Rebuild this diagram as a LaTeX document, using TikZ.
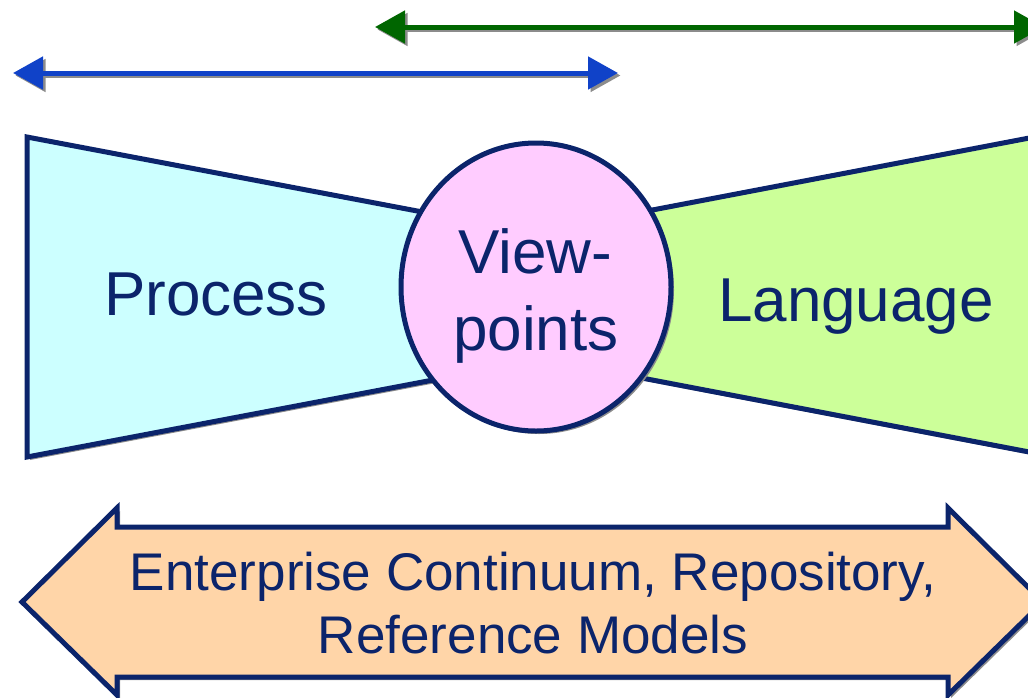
\documentclass[tikz,border=0pt]{standalone}
\usepackage{fontspec}
\setmainfont{Liberation Sans}
\usetikzlibrary{arrows.meta,shapes.geometric,shadows}
\definecolor{navy}{RGB}{11,36,107}
\definecolor{cyanfill}{RGB}{204,255,255}
\definecolor{greenfill}{RGB}{204,255,153}
\definecolor{pinkfill}{RGB}{255,204,255}
\definecolor{peachfill}{RGB}{255,213,168}
\definecolor{bluearrow}{RGB}{16,66,200}
\definecolor{greenarrow}{RGB}{0,102,0}
\definecolor{shadowgray}{RGB}{140,140,140}
\tikzset{
  shapeline/.style={draw=navy, line width=5pt, line join=miter,
    drop shadow={shadow xshift=3pt, shadow yshift=-3pt, fill=shadowgray, opacity=1}},
  bigtext/.style={text=navy, font=\fontsize{62}{74}\selectfont, inner sep=0pt, anchor=base},
  midtext/.style={text=navy, font=\fontsize{53}{63}\selectfont, inner sep=0pt, anchor=base},
  spanarrow/.style={line width=5pt, {Triangle[length=30pt,width=32pt]}-{Triangle[length=30pt,width=32pt]}},
  spanshadow/.style={spanarrow, draw=shadowgray, transform canvas={xshift=2.5pt,yshift=-2.5pt}},
  vpcircle/.style={ellipse, draw=navy, fill=pinkfill, line width=5pt, minimum width=270pt, minimum height=288pt, inner sep=0pt,
    drop shadow={shadow xshift=3pt, shadow yshift=-3pt, fill=shadowgray, opacity=1}}
}
\begin{document}
\begin{tikzpicture}[x=1pt,y=-1pt]
\useasboundingbox (0,0) rectangle (1028,697);
% span arrows
\coordinate (g1) at (375,27);
\coordinate (g2) at (1044,27);
\coordinate (b1) at (13,73);
\coordinate (b2) at (618,73);
\draw[spanshadow] (g1) -- (g2);
\draw[spanarrow, draw=greenarrow, fill=greenarrow] (g1) -- (g2);
\draw[spanshadow] (b1) -- (b2);
\draw[spanarrow, draw=bluearrow, fill=bluearrow] (b1) -- (b2);
% trapezoids
\path[shapeline, fill=cyanfill] (27,137) -- (470,221) -- (470,373) -- (27,457) -- cycle;
\path[shapeline, fill=greenfill] (1045,135) -- (600,220) -- (600,370) -- (1045,455) -- cycle;
\node[bigtext] (proc) at (216,315) {Process};
\node[bigtext] (lang) at (856,321) {Language};
% viewpoints circle
\node[vpcircle] (vp) at (536,287) {};
\node[bigtext] (vp1) at (535,273) {View-};
\node[bigtext] (vp2) at (536,350) {points};
% bottom double arrow
\path[shapeline, fill=peachfill] (22,602) -- (117,508) -- (117,527) -- (948,527) -- (948,508) -- (1043,602)
  -- (948,695) -- (948,677) -- (117,677) -- (117,695) -- cycle;
\node[midtext] (ec1) at (533,590) {Enterprise Continuum, Repository,};
\node[midtext] (ec2) at (533,653) {Reference Models};
\end{tikzpicture}
\end{document}
